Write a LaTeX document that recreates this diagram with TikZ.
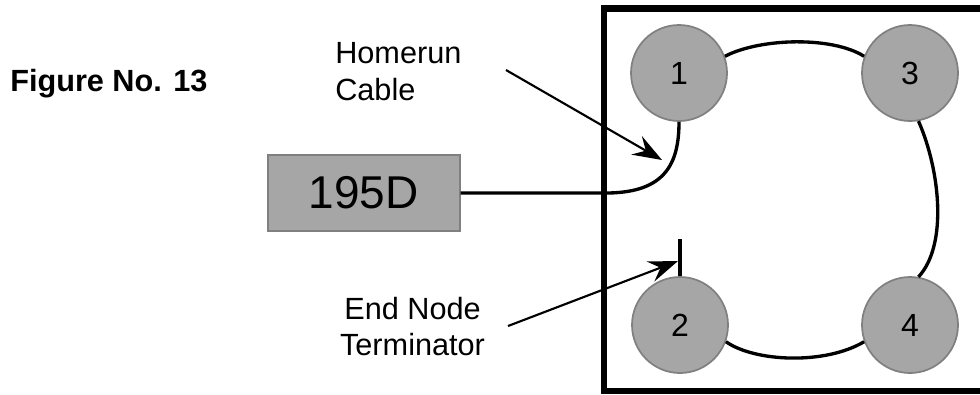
\documentclass[tikz,border=0pt]{standalone}
\usepackage{fontspec}
\setmainfont{Liberation Sans}
\usepackage{xcolor}
\usepackage{tikz}
\usetikzlibrary{arrows.meta}
\definecolor{unitgray}{RGB}{166, 166, 166}
\definecolor{rimgray}{RGB}{128, 128, 128}

\begin{document}
\begin{tikzpicture}[
  x=0.75pt, y=-0.75pt,
  station/.style={circle, fill=unitgray, draw=rimgray, line width=1.3pt,
    minimum size=72pt, inner sep=0pt, font=\fontsize{24}{28}\selectfont},
  panel/.style={rectangle, fill=unitgray, draw=rimgray, line width=1.3pt,
    minimum width=144pt, minimum height=57pt, inner sep=0pt,
    font=\fontsize{34.5}{40}\selectfont},
  callout/.style={inner sep=0pt, font=\fontsize{23}{27.5}\selectfont},
  cable/.style={line width=2.5pt},
  pointer/.style={line width=1.6pt, -{Stealth[length=22pt, width=16pt, inset=8pt]}},
]
  \useasboundingbox (0,0) rectangle (980,394);
  \clip (0,0) rectangle (980,394);

  % Enclosure (right side runs off the page)
  \draw[line width=5pt] (604,8.5) rectangle (1020,391);

  % Title
  \node[callout, font=\fontsize{23}{27.5}\selectfont\bfseries, anchor=base west]
    (title) at (10,91.7) {Figure No. 13};

  % Controller and stations
  \node[panel] (ctrl) at (363.7,193) {195D};
  \node[station] (n1) at (679,73) {1};
  \node[station] (n3) at (910,73) {3};
  \node[station] (n2) at (680,325) {2};
  \node[station] (n4) at (910,325) {4};

  % Homerun cable from the controller to station 1
  \draw[cable] (ctrl.east) -- ++(148,0)
    .. controls (664,192) and (679,165) .. (n1.south);

  % Daisy chain 1 - 3 - 4 - 2
  \draw[cable] (n1.20) .. controls (760,38) and (832,36) .. (n3.160);
  \draw[cable] (n3.-80) .. controls (940,170) and (948,245) .. (n4.80);
  \draw[cable] (n4.200) .. controls (825,365) and (755,362) .. (n2.-20);

  % Terminator stub on station 2
  \draw[cable] (n2.north) -- ++(0,-37) coordinate (stub);

  % Labels
  \node[callout, align=left, anchor=west] (homerun) at (335,71.7)
    {Homerun\\Cable};
  \node[callout, align=center] (endnode) at (412.5,326.5)
    {End Node\\Terminator};

  % Callout arrows
  \coordinate (hrtail) at (506,70);
  \coordinate (hrtip) at (662,160);
  \coordinate (tmtail) at (508,326);
  \coordinate (tmtip) at (678,261);
  \draw[pointer] (hrtail) -- (hrtip);
  \draw[pointer] (tmtail) -- (tmtip);

\end{tikzpicture}
\end{document}
